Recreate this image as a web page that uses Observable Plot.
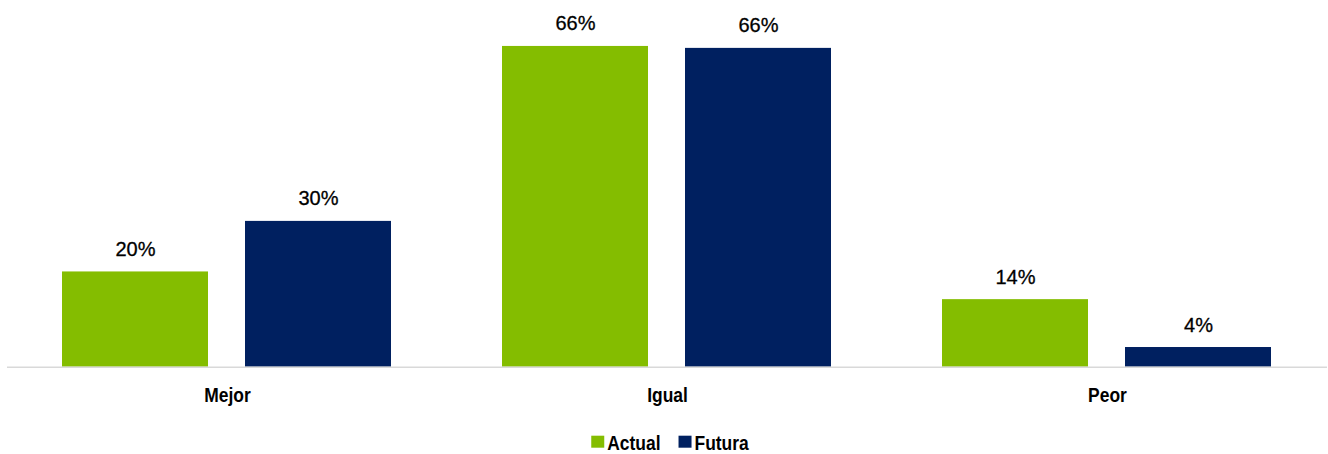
<!DOCTYPE html>
<html>
<head>
<meta charset="utf-8">
<script src="https://cdn.jsdelivr.net/npm/d3@7"></script>
<script src="https://cdn.jsdelivr.net/npm/@observablehq/plot@0.6"></script>
<style>
  html, body { margin: 0; padding: 0; background: #fff; }
  svg { display: block; }
</style>
</head>
<body>
<div id="chart"></div>
<div id="legend"></div>
<script>
const categories = ["Mejor", "Igual", "Peor"];
const series = ["Actual", "Futura"];
const actual = [19.6, 66.0, 13.9];
const futura = [30.0, 65.6, 4.05];
const colors = ["#84BD00", "#002060"];

const data = [];
categories.forEach((c, i) => {
  data.push({cat: c, series: series[0], value: actual[i]});
  data.push({cat: c, series: series[1], value: futura[i]});
});

const sans = '"Liberation Sans", Arial, sans-serif';
const condense = 0.83;

const chart = Plot.plot({
  width: 1328,
  height: 418,
  marginLeft: 6,
  marginRight: 1,
  marginTop: 26.5,
  marginBottom: 51.3,
  style: {background: "#fff", overflow: "visible"},
  fx: {domain: categories, padding: 0, axis: null},
  x: {domain: series, paddingInner: 0.2, paddingOuter: 0.3, axis: null},
  y: {domain: [0, 70], axis: null},
  color: {domain: series, range: colors},
  marks: [
    Plot.barY(data, {fx: "cat", x: "series", y: "value", fill: "series"}),
    Plot.ruleY([0], {stroke: "#d9d9d9", strokeWidth: 1.5}),
    Plot.text(data, {
      fx: "cat", x: "series", y: "value",
      text: d => Math.round(d.value) + "%",
      lineAnchor: "bottom", dy: -16,
      fontSize: 20, fontFamily: sans, fill: "#000", stroke: "#000", strokeWidth: 0.3
    }),
    Plot.axisFx({
      anchor: "bottom", tickSize: 0, tickPadding: 20.3, label: null,
      fontSize: 21, fontFamily: sans, fontWeight: "bold", fill: "#000",
      className: "cat-axis"
    })
  ]
});
document.getElementById("chart").appendChild(chart);

// condense category labels (narrow typeface look)
d3.select(chart).selectAll(".cat-axis text").each(function() {
  const w = this.getComputedTextLength();
  d3.select(this).attr("textLength", w * condense).attr("lengthAdjust", "spacingAndGlyphs");
});

// legend below the chart
const lg = d3.select("#legend").append("svg").attr("width", 1328).attr("height", 36);
const items = lg.selectAll("g").data(series).join("g");
items.append("rect").attr("width", 13).attr("height", 12).attr("y", 17.7)
  .attr("fill", (d, i) => colors[i]);
const labels = items.append("text").text(d => d)
  .attr("x", 16).attr("y", 31.5)
  .attr("font-family", sans).attr("font-weight", "bold").attr("font-size", 21).attr("fill", "#000");
const widths = [];
labels.each(function() {
  const w = this.getComputedTextLength() * condense;
  d3.select(this).attr("textLength", w).attr("lengthAdjust", "spacingAndGlyphs");
  widths.push(w);
});
const gap = 18;
const total = d3.sum(widths, w => 16 + w) + gap * (series.length - 1);
let x0 = 670 - total / 2;
items.attr("transform", (d, i) => {
  const x = x0;
  x0 += 16 + widths[i] + gap;
  return `translate(${x},0)`;
});
</script>
</body>
</html>
